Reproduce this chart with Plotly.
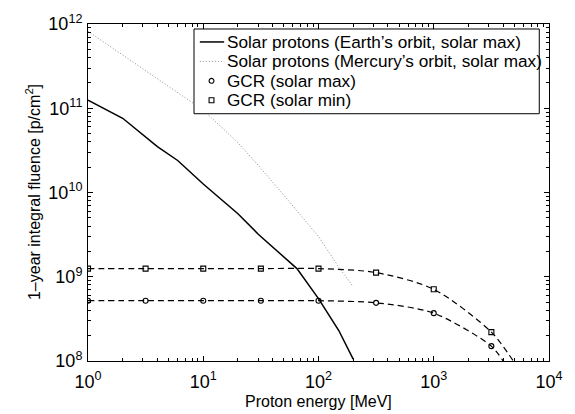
import plotly.graph_objects as go

# Solar proton event fluence, Earth's orbit (solar max)
energy_earth = [1, 2, 4, 6, 10, 20, 30, 50, 65, 100, 150, 200]
fluence_earth = [1.25e11, 7.6e10, 3.5e10, 2.4e10, 1.26e10, 5.6e9, 3.2e9, 1.7e9, 1.25e9, 5.5e8, 2.3e8, 1.05e8]

# Solar proton event fluence, Mercury's orbit (solar max)
energy_mercury = [1, 2, 3, 5, 10, 20, 30, 50, 100, 150, 200]
fluence_mercury = [8.2e11, 4.3e11, 2.9e11, 1.8e11, 9.5e10, 3.9e10, 2.1e10, 9.3e9, 3.0e9, 1.3e9, 7.6e8]

# Galactic cosmic rays
energy_gcr = [1, 3.16, 10, 31.6, 100, 316, 1000, 3162]
fluence_gcr_max = [5.2e8, 5.2e8, 5.2e8, 5.2e8, 5.2e8, 4.9e8, 3.7e8, 1.5e8]
fluence_gcr_min = [1.25e9, 1.25e9, 1.25e9, 1.25e9, 1.25e9, 1.12e9, 7.1e8, 2.2e8]
# where each GCR curve leaves the bottom of the axes
gcr_max_end = (4000, 1.0e8)
gcr_min_end = (4900, 1.0e8)

x_tickvals = [1, 10, 100, 1000, 10000]
x_ticktext = ["10<sup>0</sup>", "10<sup>1</sup>", "10<sup>2</sup>", "10<sup>3</sup>", "10<sup>4</sup>"]
y_tickvals = [1e8, 1e9, 1e10, 1e11, 1e12]
y_ticktext = ["10<sup>8</sup>", "10<sup>9</sup>", "10<sup>10</sup>", "10<sup>11</sup>", "10<sup>12</sup>"]

legend_labels = [
    "Solar protons (Earth\u2019s orbit, solar max)",
    "Solar protons (Mercury\u2019s orbit, solar max)",
    "GCR (solar max)",
    "GCR (solar min)",
]
x_title = "Proton energy [MeV]"
y_title = "1\u2013year integral fluence [p/cm<sup>2</sup>]"

W, H = 575, 414
ML, MR, MT, MB = 88, 13, 23, 53
PW, PH = W - ML - MR, H - MT - MB
FONT = "Liberation Sans, Arial, Helvetica, sans-serif"
GRAY = "#8c8c8c"


def px(x):
    return (x - ML) / PW


def py(y):
    return (H - MB - y) / PH


fig = go.Figure()

fig.add_trace(go.Scatter(x=energy_earth, y=fluence_earth, mode="lines",
                         name=legend_labels[0], line=dict(color="black", width=1.5)))
fig.add_trace(go.Scatter(x=energy_mercury, y=fluence_mercury, mode="lines",
                         name=legend_labels[1], line=dict(color=GRAY, width=1, dash="1px,2px")))

for ys, end, sym, label in [
    (fluence_gcr_max, gcr_max_end, "circle-open", legend_labels[2]),
    (fluence_gcr_min, gcr_min_end, "square-open", legend_labels[3]),
]:
    fig.add_trace(go.Scatter(x=energy_gcr + [end[0]], y=ys + [end[1]], mode="lines",
                             line=dict(color="black", width=1.2, dash="6px,4px", shape="spline", smoothing=0.8),
                             showlegend=False, hoverinfo="skip"))
    fig.add_trace(go.Scatter(x=energy_gcr, y=ys, mode="markers", name=label,
                             marker=dict(symbol=sym, size=5, color="black", line=dict(width=1.1, color="black"))))

# Legend box drawn in paper coordinates
shapes = [dict(type="rect", xref="paper", yref="paper", x0=px(197), x1=px(552), y0=py(113), y1=py(28),
               line=dict(color="black", width=1), fillcolor="white", layer="above")]
rows = [41, 60.5, 80, 99.5]
shapes.append(dict(type="line", xref="paper", yref="paper", x0=px(203), x1=px(228), y0=py(rows[0]), y1=py(rows[0]),
                   line=dict(color="black", width=1.5), layer="above"))
shapes.append(dict(type="line", xref="paper", yref="paper", x0=px(203), x1=px(228), y0=py(rows[1]), y1=py(rows[1]),
                   line=dict(color=GRAY, width=1, dash="1px,2px"), layer="above"))
r = 2.5
shapes.append(dict(type="circle", xref="paper", yref="paper", x0=px(215 - r), x1=px(215 + r),
                   y0=py(rows[2] + r), y1=py(rows[2] - r), line=dict(color="black", width=1.1), layer="above"))
shapes.append(dict(type="rect", xref="paper", yref="paper", x0=px(215 - r), x1=px(215 + r),
                   y0=py(rows[3] + r), y1=py(rows[3] - r), line=dict(color="black", width=1.1), layer="above"))

annotations = [dict(x=px(229), y=py(yr), xref="paper", yref="paper", text=t, showarrow=False,
                    xanchor="left", yanchor="middle", font=dict(family=FONT, size=17.2, color="black"))
               for t, yr in zip(legend_labels, rows)]

# Axis titles
annotations.append(dict(x=0.5, y=py(402), xref="paper", yref="paper", text=x_title, showarrow=False,
                        xanchor="center", yanchor="middle", font=dict(family=FONT, size=16, color="black")))
annotations.append(dict(x=px(31), y=0.5, xref="paper", yref="paper", text=y_title, showarrow=False, textangle=-90,
                        xanchor="center", yanchor="middle", font=dict(family=FONT, size=16, color="black")))

x_minor = [m * 10 ** k for k in range(4) for m in range(2, 10)]
y_minor = [m * 10 ** k for k in range(8, 12) for m in range(2, 10)]

axis_common = dict(showgrid=False, zeroline=False, showline=True, linecolor="black", linewidth=1,
                   mirror="allticks", ticks="inside", ticklen=5, tickcolor="black",
                   ticklabeloverflow="allow",
                   tickfont=dict(family=FONT, size=18, color="black"))

fig.update_layout(
    width=W, height=H,
    margin=dict(l=ML, r=MR, t=MT, b=MB),
    paper_bgcolor="white", plot_bgcolor="white",
    showlegend=False,
    shapes=shapes, annotations=annotations,
    xaxis=dict(type="log", range=[0, 4], tickmode="array", tickvals=x_tickvals, ticktext=x_ticktext,
               minor=dict(tickmode="array", tickvals=x_minor, ticks="inside", ticklen=3, tickcolor="black"),
               ticklabelstandoff=4, **axis_common),
    yaxis=dict(type="log", range=[8, 12], tickmode="array", tickvals=y_tickvals, ticktext=y_ticktext,
               minor=dict(tickmode="array", tickvals=y_minor, ticks="inside", ticklen=3, tickcolor="black"),
               ticklabelstandoff=1, **axis_common),
)

fig.write_html("out.html")
